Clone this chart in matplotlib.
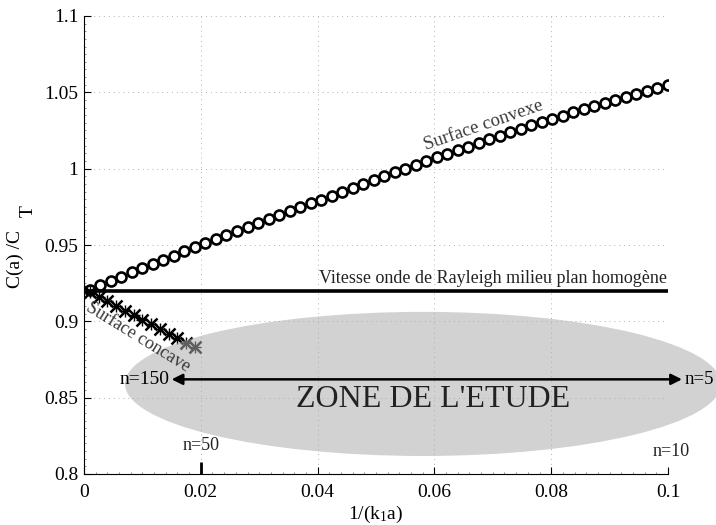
import matplotlib
matplotlib.use("Agg")
import matplotlib.pyplot as plt
from matplotlib.patches import Ellipse
from matplotlib.ticker import MultipleLocator

plt.rcParams['font.family'] = ['Liberation Serif', 'DejaVu Serif']
plt.rcParams['mathtext.fontset'] = 'custom'
plt.rcParams['mathtext.rm'] = 'Liberation Serif'
plt.rcParams['mathtext.it'] = 'Liberation Serif:italic'

# surface convexe : C(a)/C_T en fonction de 1/(k1 a)
x_convexe = [
    0.0010, 0.0028, 0.0046, 0.0064, 0.0082, 0.0100, 0.0118, 0.0136,
    0.0154, 0.0172, 0.0190, 0.0208, 0.0226, 0.0244, 0.0262, 0.0280,
    0.0298, 0.0316, 0.0334, 0.0352, 0.0370, 0.0388, 0.0406, 0.0424,
    0.0442, 0.0460, 0.0478, 0.0496, 0.0514, 0.0532, 0.0550, 0.0568,
    0.0586, 0.0604, 0.0622, 0.0640, 0.0658, 0.0676, 0.0694, 0.0712,
    0.0730, 0.0748, 0.0766, 0.0784, 0.0802, 0.0820, 0.0838, 0.0856,
    0.0874, 0.0892, 0.0910, 0.0928, 0.0946, 0.0964, 0.0982, 0.1000,
]
y_convexe = [
    0.9206, 0.9235, 0.9264, 0.9292, 0.9321, 0.9350, 0.9377, 0.9404,
    0.9431, 0.9458, 0.9485, 0.9512, 0.9539, 0.9566, 0.9593, 0.9620,
    0.9647, 0.9672, 0.9698, 0.9723, 0.9748, 0.9773, 0.9798, 0.9824,
    0.9849, 0.9874, 0.9899, 0.9924, 0.9950, 0.9975, 1.0000, 1.0025,
    1.0050, 1.0075, 1.0099, 1.0122, 1.0145, 1.0169, 1.0192, 1.0215,
    1.0238, 1.0260, 1.0283, 1.0305, 1.0327, 1.0348, 1.0369, 1.0389,
    1.0410, 1.0431, 1.0452, 1.0471, 1.0491, 1.0510, 1.0530, 1.0550,
]

# surface concave
x_concave = [0.0010, 0.0025, 0.0040, 0.0055, 0.0070, 0.0085, 0.0100,
             0.0115, 0.0130, 0.0145, 0.0160, 0.0175, 0.0190]
y_concave = [0.9190, 0.9160, 0.9130, 0.9100, 0.9070, 0.9040, 0.9010,
             0.8980, 0.8950, 0.8920, 0.8890, 0.8860, 0.8830]

# vitesse de Rayleigh du milieu plan homogene
c_rayleigh = 0.92

fig = plt.figure(figsize=(7.16, 5.25), dpi=100)
ax = fig.add_axes([84 / 716, 51 / 525, 584 / 716, 458 / 525])

ax.plot(x_convexe, y_convexe, 'o', mfc='none', mec='k', ms=7.2, mew=1.9, zorder=3)
ax.plot(x_concave, y_concave, 'x', color='k', ms=8.5, mew=1.8, zorder=3)
ax.plot(x_concave, y_concave, '+', color='k', ms=8, mew=1.0, zorder=3)
ax.plot([0, 0.1], [c_rayleigh, c_rayleigh], 'k-', lw=2.6, zorder=3)

# zone de l'etude
zone = Ellipse((0.05805, 0.859), 2 * 0.05103, 2 * 0.0472, facecolor=(0.68, 0.68, 0.69),
               edgecolor='none', alpha=0.55, clip_on=False, zorder=4)
ax.add_patch(zone)

ax.annotate('', xy=(0.0150, 0.862), xytext=(0.1024, 0.862),
            arrowprops=dict(arrowstyle='<|-|>', color='k', lw=1.8, mutation_scale=16,
                            shrinkA=0, shrinkB=0),
            annotation_clip=False, zorder=5)
ax.text(0.0146, 0.862, 'n=150', ha='right', va='center', fontsize=14, zorder=5)
ax.text(0.1029, 0.862, 'n=5', ha='left', va='center', fontsize=13.5, zorder=5, clip_on=False)
ax.text(0.0598, 0.8485, "ZONE DE L'ETUDE", ha='center', va='center', fontsize=23,
        color='#222222', zorder=5)
ax.text(0.02, 0.8186, 'n=50', ha='center', va='center', fontsize=13, color='#222222')
ax.text(0.1005, 0.8146, 'n=10', ha='center', va='center', fontsize=13, color='#222222')
ax.plot([0.02, 0.02], [0.8, 0.808], 'k-', lw=2, solid_capstyle='butt', clip_on=False)

ax.text(0.0998, 0.9222, 'Vitesse onde de Rayleigh milieu plan homogène', ha='right',
        va='bottom', fontsize=13, color='#222222')
ax.text(0.0685, 1.0285, 'Surface convexe', rotation=19, ha='center', va='center',
        fontsize=13.5, color='#3a3a3a', rotation_mode='anchor')
ax.text(0.0092, 0.8895, 'Surface concave', rotation=-31.5, ha='center', va='center',
        fontsize=13, color='#3a3a3a', rotation_mode='anchor', zorder=5)

ax.set_xlim(0, 0.1)
ax.set_ylim(0.8, 1.1)
ax.set_xticks([0, 0.02, 0.04, 0.06, 0.08, 0.1])
ax.set_xticklabels(['0', '0.02', '0.04', '0.06', '0.08', '0.1'])
ax.set_yticks([0.8, 0.85, 0.9, 0.95, 1.0, 1.05, 1.1])
ax.set_yticklabels(['0.8', '0.85', '0.9', '0.95', '1', '1.05', '1.1'])
ax.xaxis.set_minor_locator(MultipleLocator(0.002))
ax.yaxis.set_minor_locator(MultipleLocator(0.005))
ax.tick_params(which='major', direction='in', length=5, width=0.8, labelsize=14)
ax.tick_params(axis='x', which='major', pad=7)
ax.tick_params(axis='y', which='major', pad=4)
ax.tick_params(which='minor', direction='in', length=1.5, width=0.5, color='#666666')
ax.grid(True, which='major', linestyle=(0, (1, 4)), color='#b0b0b0', lw=0.7)
ax.spines['top'].set_visible(False)
ax.spines['right'].set_visible(False)
ax.spines['left'].set_linewidth(0.8)
ax.spines['bottom'].set_linewidth(0.8)

ax.set_xlabel(r'1/(k$_\mathrm{1}$a)', fontsize=14, labelpad=2)
fig.text(15 / 716, 1 - 259 / 525, 'C(a) /C', rotation=90, ha='center', va='center', fontsize=14)
fig.text(28 / 716, 1 - 211 / 525, 'T', rotation=90, ha='center', va='center', fontsize=14)

fig.savefig('out.png', dpi=100)
